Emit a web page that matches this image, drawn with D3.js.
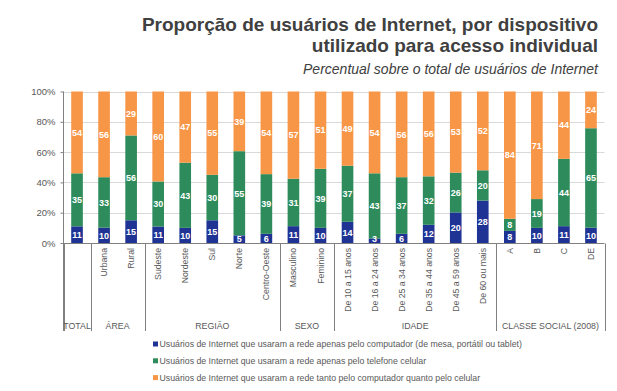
<!DOCTYPE html>
<html><head><meta charset="utf-8">
<script src="https://cdn.jsdelivr.net/npm/d3@7"></script>
<style>
html,body{margin:0;padding:0;background:#fff;}
svg{display:block;font-family:"Liberation Sans",Arial,sans-serif;}
</style></head>
<body>
<svg id="c" width="617" height="391"></svg>
<script>
const categories = ["","Urbana","Rural","Sudeste","Nordeste","Sul","Norte","Centro-Oeste","Masculino","Feminino","De 10 a 15 anos","De 16 a 24 anos","De 25 a 34 anos","De 35 a 44 anos","De 45 a 59 anos","De 60 ou mais","A","B","C","DE"];
const computador = [11,10,15,11,10,15,5,6,11,10,14,3,6,12,20,28,8,10,11,10];
const celular =    [35,33,56,30,43,30,55,39,31,39,37,43,37,32,26,20,8,19,44,65];
const ambos =      [54,56,29,60,47,55,39,54,57,51,49,54,56,56,53,52,84,71,44,24];
const groupNames = ["TOTAL","ÁREA","REGIÃO","SEXO","IDADE","CLASSE SOCIAL (2008)"];
const groupSizes = [1,2,5,2,6,4];
const seriesNames = [
  "Usuários de Internet que usaram a rede apenas pelo computador (de mesa, portátil ou tablet)",
  "Usuários de Internet que usaram a rede apenas pelo telefone celular",
  "Usuários de Internet que usaram a rede tanto pelo computador quanto pelo celular"
];
const yTicks = [0,0.2,0.4,0.6,0.8,1];
const colors = ["#1f3394","#2e8c5c","#f79646"];

const svg = d3.select("#c");
const keys = ["computador","celular","ambos"];
const table = categories.map((c,i)=>({cat:i, computador:computador[i], celular:celular[i], ambos:ambos[i]}));
const stacked = d3.stack().keys(keys).offset(d3.stackOffsetExpand)(table);

const x = d3.scaleBand().domain(d3.range(categories.length)).range([63.5,604.5]).paddingInner(0.57).paddingOuter(0.285);
const y = d3.scaleLinear().domain([0,1]).range([243,91.5]);

// title
svg.append("text").attr("x",598).attr("y",31).attr("text-anchor","end").attr("font-weight","bold").attr("font-size",19).attr("fill","#404040").text("Proporção de usuários de Internet, por dispositivo");
svg.append("text").attr("x",598).attr("y",52).attr("text-anchor","end").attr("font-weight","bold").attr("font-size",19).attr("fill","#404040").text("utilizado para acesso individual");
svg.append("text").attr("x",598).attr("y",74).attr("text-anchor","end").attr("font-style","italic").attr("font-size",14).attr("fill","#404040").text("Percentual sobre o total de usuários de Internet");

// gridlines
svg.append("g").selectAll("line").data(yTicks.filter(t=>t>0)).join("line")
  .attr("x1",63.5).attr("x2",604.5).attr("y1",d=>Math.round(y(d))+0.5).attr("y2",d=>Math.round(y(d))+0.5)
  .attr("stroke","#d9d9d9").attr("stroke-width",1);

// y axis
const yAxis = svg.append("g").attr("transform","translate(63.5,0)")
  .call(d3.axisLeft(y).tickValues(yTicks).tickFormat(d3.format(".0%")).tickSize(3).tickPadding(5));
yAxis.select(".domain").remove();
yAxis.selectAll(".tick line").attr("stroke","#808080");
yAxis.selectAll(".tick text").attr("fill","#595959").attr("font-size",9.5).attr("font-family","Liberation Sans, Arial, sans-serif");
svg.append("line").attr("x1",63.5).attr("x2",63.5).attr("y1",91.5).attr("y2",331).attr("stroke","#808080");

// bars
const layers = svg.append("g").selectAll("g").data(stacked).join("g").attr("fill",(d,i)=>colors[i]);
layers.selectAll("rect").data(d=>d).join("rect")
  .attr("x",d=>x(d.data.cat)).attr("width",x.bandwidth())
  .attr("y",d=>y(d[1])).attr("height",d=>y(d[0])-y(d[1]));

// value labels
stacked.forEach((s,si)=>{
  svg.append("g").selectAll("text").data(s).join("text")
    .attr("x",d=>x(d.data.cat)+x.bandwidth()/2)
    .attr("y",d=>Math.min((y(d[0])+y(d[1]))/2, 239))
    .attr("dy","0.36em").attr("text-anchor","middle")
    .attr("font-size",9).attr("font-weight","bold").attr("fill","#fff")
    .text(d=>d.data[keys[si]]);
});

// x baseline
svg.append("line").attr("x1",63.5).attr("x2",604.5).attr("y1",243.5).attr("y2",243.5).attr("stroke","#808080");

// category labels
svg.append("g").selectAll("text").data(categories).join("text")
  .attr("transform",(d,i)=>`translate(${x(i)+x.bandwidth()/2},248) rotate(-90)`)
  .attr("text-anchor","end").attr("dy","0.35em")
  .attr("font-size",8.7).attr("fill","#595959").text(d=>d);

// group separators and labels
let start = 0;
const bounds = [0];
groupSizes.forEach(n=>{start+=n;bounds.push(start);});
const step = x.step();
const x0 = x.range()[0];
svg.append("g").selectAll("line").data(bounds).join("line")
  .attr("x1",d=>Math.round(x0+d*step)+0.5).attr("x2",d=>Math.round(x0+d*step)+0.5)
  .attr("y1",243.5).attr("y2",331).attr("stroke","#808080");
svg.append("g").selectAll("text").data(groupNames).join("text")
  .attr("x",(d,i)=>x0+(bounds[i]+bounds[i+1])/2*step)
  .attr("y",329).attr("text-anchor","middle").attr("font-size",8.8).attr("fill","#595959").text(d=>d);

// legend
const lg = svg.append("g").selectAll("g").data(seriesNames).join("g")
  .attr("transform",(d,i)=>`translate(153,${344+i*16.8})`);
lg.append("rect").attr("x",0).attr("y",-2.5).attr("width",5).attr("height",5).attr("fill",(d,i)=>colors[i]);
lg.append("text").attr("x",6.5).attr("dy","0.35em").attr("font-size",8.75).attr("fill","#595959").text(d=>d);
</script>
</body></html>
